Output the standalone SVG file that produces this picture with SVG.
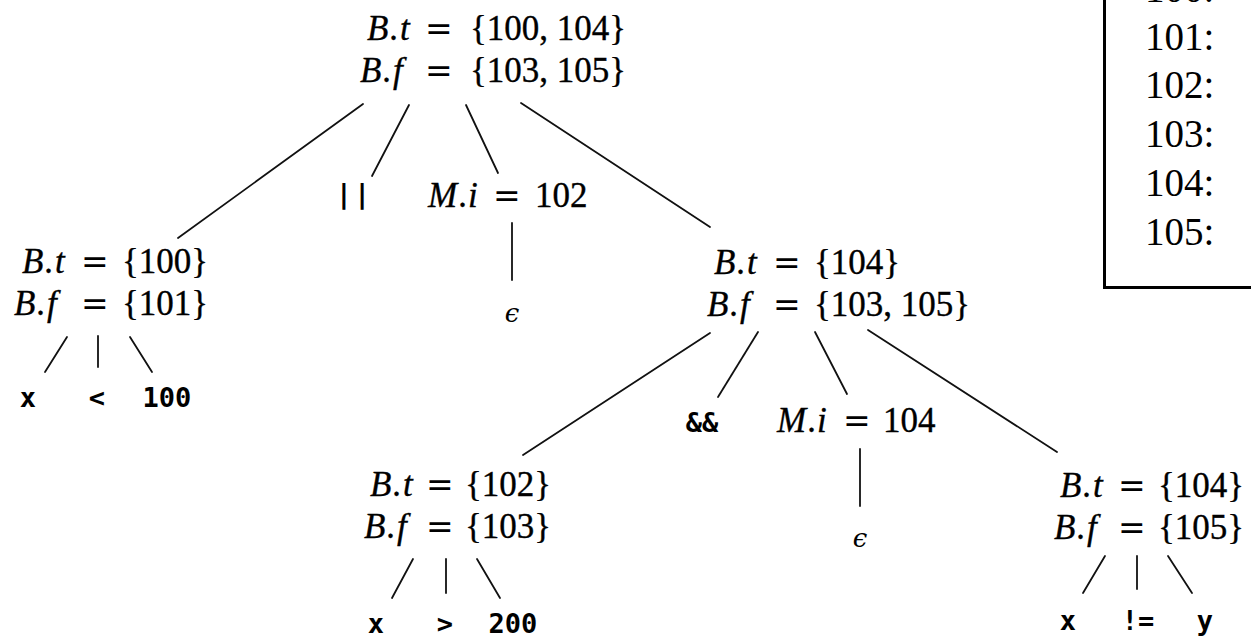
<svg xmlns="http://www.w3.org/2000/svg" width="1251" height="638" viewBox="0 0 1251 638">
<style>
.m{font-family:"Liberation Serif","Times New Roman",serif;font-size:35px;fill:#000;stroke:#000;stroke-width:0.35}
.i{font-style:italic}
.eq{font-family:"DejaVu Serif",serif;font-size:33px;stroke-width:0}
.tt{font-family:"DejaVu Sans Mono",monospace;font-size:27px;font-weight:bold;fill:#000;text-anchor:middle}
.eps{font-family:"DejaVu Serif",serif;font-style:italic;font-size:26px;fill:#000;text-anchor:middle}
.lbl{font-family:"Liberation Serif","Times New Roman",serif;font-size:39px;fill:#000}
#edges line{stroke:#111;stroke-width:1.8;stroke-linecap:round}
</style>
<rect width="1251" height="638" fill="#fff"/>

<g id="edges">
<line x1="363" y1="104" x2="178" y2="238"/>
<line x1="409" y1="105" x2="372" y2="176"/>
<line x1="466" y1="105" x2="498" y2="173"/>
<line x1="521" y1="103" x2="710" y2="227"/>
<line x1="512" y1="223" x2="512" y2="280"/>
<line x1="67" y1="337" x2="45" y2="372"/>
<line x1="98" y1="336" x2="98" y2="367"/>
<line x1="130" y1="337" x2="152" y2="372"/>
<line x1="710" y1="333" x2="523" y2="455"/>
<line x1="758" y1="332" x2="718" y2="397"/>
<line x1="815" y1="332" x2="847" y2="394"/>
<line x1="868" y1="330" x2="1057" y2="452"/>
<line x1="860" y1="449" x2="860" y2="506"/>
<line x1="413" y1="559" x2="392" y2="598"/>
<line x1="446" y1="559" x2="446" y2="593"/>
<line x1="477" y1="559" x2="500" y2="598"/>
<line x1="1105" y1="556" x2="1083" y2="593"/>
<line x1="1137" y1="556" x2="1137" y2="589"/>
<line x1="1168" y1="556" x2="1192" y2="593"/>
</g>

<g id="root">
<text class="m" y="40"><tspan class="i" x="367 390 400">B.t</tspan><tspan class="eq" x="425">=</tspan><tspan x="470">{100, 104}</tspan></text>
<text class="m" y="82"><tspan class="i" x="360 383 393">B.f</tspan><tspan class="eq" x="425">=</tspan><tspan x="470">{103, 105}</tspan></text>
</g>

<g id="or">
<text class="tt" x="354" y="203" letter-spacing="2">||</text>
</g>

<g id="m1">
<text class="m" y="207"><tspan class="i" x="428 459 468">M.i</tspan><tspan class="eq" x="493">=</tspan><tspan x="535">102</tspan></text>
</g>
<g id="eps1"><text class="eps" x="512" y="322">ϵ</text></g>

<g id="left">
<text class="m" y="273"><tspan class="i" x="22 45 55">B.t</tspan><tspan class="eq" x="81">=</tspan><tspan x="122">{100}</tspan></text>
<text class="m" y="315"><tspan class="i" x="14 37 47">B.f</tspan><tspan class="eq" x="81">=</tspan><tspan x="122">{101}</tspan></text>
</g>
<g id="left-x"><text class="tt" x="28" y="407">x</text></g>
<g id="left-lt"><text class="tt" x="97" y="407">&lt;</text></g>
<g id="left-100"><text class="tt" x="167" y="407">100</text></g>

<g id="right">
<text class="m" y="274"><tspan class="i" x="714 737 747">B.t</tspan><tspan class="eq" x="773">=</tspan><tspan x="814">{104}</tspan></text>
<text class="m" y="316"><tspan class="i" x="707 730 740">B.f</tspan><tspan class="eq" x="773">=</tspan><tspan x="814">{103, 105}</tspan></text>
</g>

<g id="and"><text class="tt" x="702" y="432">&amp;&amp;</text></g>

<g id="m2">
<text class="m" y="432"><tspan class="i" x="777 808 817">M.i</tspan><tspan class="eq" x="843">=</tspan><tspan x="883">104</tspan></text>
</g>
<g id="eps2"><text class="eps" x="860" y="547">ϵ</text></g>

<g id="bmid">
<text class="m" y="496"><tspan class="i" x="370 393 403">B.t</tspan><tspan class="eq" x="426">=</tspan><tspan x="465">{102}</tspan></text>
<text class="m" y="538"><tspan class="i" x="364 387 397">B.f</tspan><tspan class="eq" x="426">=</tspan><tspan x="465">{103}</tspan></text>
</g>
<g id="bmid-x"><text class="tt" x="376" y="633">x</text></g>
<g id="bmid-gt"><text class="tt" x="445" y="633">&gt;</text></g>
<g id="bmid-200"><text class="tt" x="513" y="633">200</text></g>

<g id="bright">
<text class="m" y="497"><tspan class="i" x="1060 1083 1093">B.t</tspan><tspan class="eq" x="1118">=</tspan><tspan x="1158">{104}</tspan></text>
<text class="m" y="539"><tspan class="i" x="1054 1077 1087">B.f</tspan><tspan class="eq" x="1118">=</tspan><tspan x="1158">{105}</tspan></text>
</g>
<g id="bright-x"><text class="tt" x="1068" y="630">x</text></g>
<g id="bright-ne"><text class="tt" x="1138" y="630">!=</text></g>
<g id="bright-y"><text class="tt" x="1205" y="630">y</text></g>

<g id="code-box">
<rect x="1104.5" y="-10" width="200" height="297.5" fill="none" stroke="#000" stroke-width="3"/>
<text class="lbl" x="1145" y="2">100:</text>
<text class="lbl" x="1145" y="50">101:</text>
<text class="lbl" x="1145" y="98">102:</text>
<text class="lbl" x="1145" y="147">103:</text>
<text class="lbl" x="1145" y="196">104:</text>
<text class="lbl" x="1145" y="245">105:</text>
</g>
</svg>
